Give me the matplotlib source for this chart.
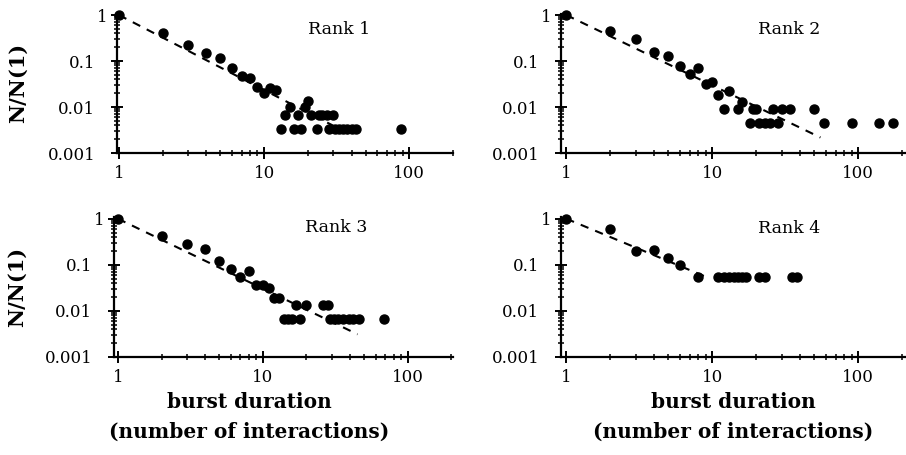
import matplotlib
matplotlib.use("Agg")
import matplotlib.pyplot as plt
import numpy as np
from matplotlib.ticker import FixedLocator, FixedFormatter, LogLocator, NullFormatter

# burst duration (number of interactions) and N/N(1)
rank1_x = [1, 2, 3, 4, 5, 6, 7, 8, 9, 10, 11, 12, 13, 14, 15, 16, 17, 18, 19, 20,
           21, 23, 24, 25, 27, 28, 30, 31, 33, 35, 37, 40, 43, 88]
rank1_y = [1, 0.41, 0.22, 0.15, 0.117, 0.07, 0.047, 0.043, 0.027, 0.02, 0.026, 0.024,
           0.0033, 0.0067, 0.01, 0.0033, 0.0067, 0.0033, 0.01, 0.0133,
           0.0067, 0.0033, 0.0067, 0.0067, 0.0067, 0.0033, 0.0067, 0.0033,
           0.0033, 0.0033, 0.0033, 0.0033, 0.0033, 0.0033]

rank2_x = [1, 2, 3, 4, 5, 6, 7, 8, 9, 10, 11, 12, 13, 15, 16, 18, 19, 20, 21, 23,
           25, 26, 28, 30, 34, 50, 58, 91, 138, 172]
rank2_y = [1, 0.46, 0.30, 0.16, 0.13, 0.078, 0.052, 0.069, 0.032, 0.035, 0.018, 0.009,
           0.022, 0.009, 0.013, 0.0044, 0.009, 0.009, 0.0044, 0.0044,
           0.0044, 0.009, 0.0044, 0.009, 0.009, 0.009, 0.0044, 0.0044, 0.0044, 0.0044]

rank3_x = [1, 2, 3, 4, 5, 6, 7, 8, 9, 10, 11, 12, 13, 14, 15, 16, 17, 18, 20,
           26, 28, 29, 31, 33, 36, 39, 42, 46, 68]
rank3_y = [1, 0.43, 0.28, 0.22, 0.12, 0.08, 0.055, 0.073, 0.037, 0.037, 0.031, 0.019,
           0.019, 0.0067, 0.0067, 0.0067, 0.013, 0.0067, 0.013,
           0.013, 0.013, 0.0067, 0.0067, 0.0067, 0.0067, 0.0067, 0.0067, 0.0067, 0.0067]

rank4_x = [1, 2, 3, 4, 5, 6, 8, 11, 12, 13, 14, 15, 16, 17, 21, 23, 35, 38]
rank4_y = [1, 0.6, 0.2, 0.21, 0.14, 0.097, 0.055, 0.055, 0.055, 0.055, 0.055, 0.055,
           0.055, 0.055, 0.055, 0.055, 0.055, 0.055]

# power-law fits drawn as dashed lines: exponent and last x
fit_exponents = [-1.63, -1.53, -1.52, -1.32]
fit_x_end = [42, 55, 45, 9.5]

panel_titles = ["Rank 1", "Rank 2", "Rank 3", "Rank 4"]
y_ticks = [0.001, 0.01, 0.1, 1]
y_tick_labels = ["0.001", "0.01", "0.1", "1"]
x_ticks = [1, 10, 100]
x_tick_labels = ["1", "10", "100"]

plt.rcParams["font.family"] = ["DejaVu Serif"]

fig = plt.figure(figsize=(9.06, 4.55), dpi=100)

W, H = 906.0, 455.0
ax_h = 139.5 / H
positions = [
    (117 / W, 1 - 153 / H, 336 / W, ax_h),
    (561 / W, 1 - 153 / H, 345 / W, ax_h),
    (114 / W, 1 - 356.7 / H, 339 / W, ax_h),
    (561 / W, 1 - 356.7 / H, 345 / W, ax_h),
]
xlims = [(0.97, 200), (0.92, 212), (0.94, 205), (0.92, 212)]
title_pos = [(0.66, 0.885), (0.66, 0.885), (0.655, 0.925), (0.66, 0.92)]
ylabel_x = [-0.265, None, -0.257, None]
xlabel_x = [None, None, 0.40, 0.50]

series = [(rank1_x, rank1_y), (rank2_x, rank2_y), (rank3_x, rank3_y), (rank4_x, rank4_y)]

for i, (xs, ys) in enumerate(series):
    ax = fig.add_axes(positions[i])
    ax.set_xscale("log")
    ax.set_yscale("log")
    ax.set_xlim(*xlims[i])
    ax.set_ylim(0.001, 1.08)

    # dashed fit line
    fx = np.logspace(0, np.log10(fit_x_end[i]), 50)
    ax.plot(fx, fx ** fit_exponents[i], color="black", lw=1.5,
            linestyle=(0, (4, 3.5)), zorder=2)
    ax.plot(xs, ys, "o", color="black", ms=6.5, zorder=3, clip_on=False)

    ax.spines["top"].set_visible(False)
    ax.spines["right"].set_visible(False)
    ax.spines["left"].set_linewidth(1.6)
    ax.spines["bottom"].set_linewidth(1.6)

    ax.xaxis.set_major_locator(FixedLocator(x_ticks))
    ax.xaxis.set_major_formatter(FixedFormatter(x_tick_labels))
    ax.xaxis.set_minor_locator(LogLocator(base=10, subs=np.arange(2, 10), numticks=20))
    ax.xaxis.set_minor_formatter(NullFormatter())
    ax.yaxis.set_major_locator(FixedLocator(y_ticks))
    ax.yaxis.set_major_formatter(FixedFormatter(y_tick_labels))
    ax.yaxis.set_minor_locator(LogLocator(base=10, subs=np.arange(2, 10), numticks=20))
    ax.yaxis.set_minor_formatter(NullFormatter())

    ax.tick_params(which="major", direction="inout", length=9, width=1.4,
                   labelsize=12, pad=4)
    ax.tick_params(which="minor", direction="inout", length=5, width=1.1)
    ax.tick_params(axis="y", which="major", pad=11)
    # the "1" label sits close to the axis in the original
    ax.yaxis.get_major_ticks()[-1].set_pad(2)

    ax.text(title_pos[i][0], title_pos[i][1], panel_titles[i], transform=ax.transAxes,
            ha="center", va="center", fontsize=12.5)

    if i % 2 == 0:
        ax.set_ylabel("N/N(1)", fontsize=15, fontweight="bold")
        ax.yaxis.set_label_coords(ylabel_x[i], 0.5)
    if i >= 2:
        ax.set_xlabel("burst duration\n(number of interactions)", fontsize=14.5,
                      fontweight="bold", linespacing=1.65)
        ax.xaxis.set_label_coords(xlabel_x[i], -0.25)
        ax.xaxis.label.set_va("top")

fig.savefig("out.png", dpi=100)
